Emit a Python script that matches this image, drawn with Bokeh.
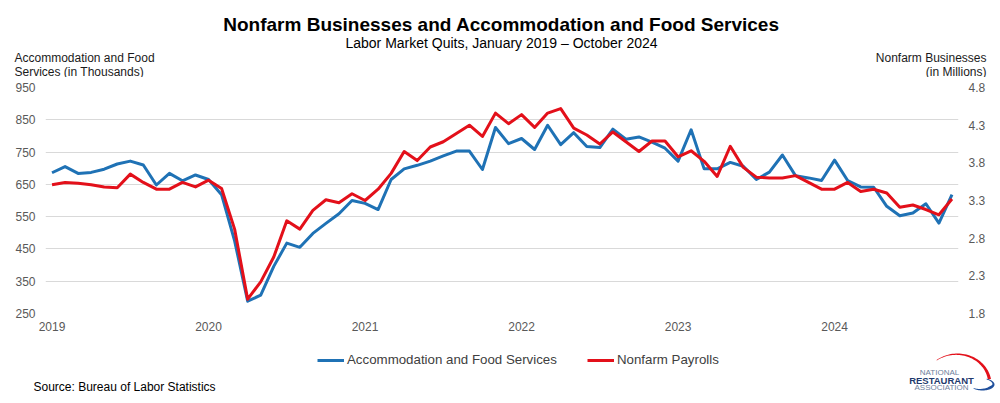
import math
from bokeh.plotting import figure
from bokeh.layouts import column
from bokeh.models import (Range1d, LinearAxis, FixedTicker, Label, Legend, LegendItem,
                          NumeralTickFormatter)
from bokeh.embed import file_html
from bokeh.resources import INLINE

# ---------------- data ----------------
months = list(range(70))  # Jan 2019 .. Oct 2024
year_ticks = [0, 12, 24, 36, 48, 60]
year_labels = ["2019", "2020", "2021", "2022", "2023", "2024"]

left_ticks = [250, 350, 450, 550, 650, 750, 850, 950]
right_ticks = [1.8, 2.3, 2.8, 3.3, 3.8, 4.3, 4.8]

# Accommodation and Food Services quits (thousands)
food_services = [686, 705, 684, 687, 697, 713, 722, 710, 648, 684, 661, 679,
                 665, 618, 475, 288, 307, 396, 468, 455, 498, 529, 559, 600,
                 591, 572, 665, 698, 709, 722, 738, 753, 753, 696, 826, 776,
                 792, 758, 833, 773, 810, 767, 764, 821, 790, 797, 781, 762,
                 722, 819, 698, 698, 718, 706, 665, 688, 741, 677, 670, 662,
                 725, 662, 642, 641, 582, 553, 561, 590, 530, 618]

# Nonfarm quits (millions)
nonfarm = [3.51, 3.54, 3.53, 3.51, 3.48, 3.47, 3.65, 3.54, 3.45, 3.45, 3.54, 3.48,
           3.57, 3.46, 2.92, 1.99, 2.22, 2.55, 3.03, 2.92, 3.17, 3.31, 3.27, 3.39,
           3.30, 3.45, 3.66, 3.95, 3.83, 4.01, 4.08, 4.19, 4.30, 4.15, 4.46, 4.32,
           4.44, 4.27, 4.46, 4.52, 4.26, 4.17, 4.05, 4.21, 4.08, 3.95, 4.09, 4.09,
           3.88, 3.96, 3.82, 3.62, 4.02, 3.74, 3.61, 3.60, 3.60, 3.63, 3.54, 3.45,
           3.45, 3.54, 3.42, 3.45, 3.40, 3.21, 3.24, 3.18, 3.11, 3.32]

series_names = ["Accommodation and Food Services", "Nonfarm Payrolls"]

title = "Nonfarm Businesses and Accommodation and Food Services"
subtitle = "Labor Market Quits, January 2019 \u2013 October 2024"
left_title = ["Accommodation and Food", "Services (in Thousands)"]
right_title = ["Nonfarm Businesses", "(in Millions)"]
source = "Source: Bureau of Labor Statistics"

# ---------------- layout ----------------
W = 1000
HEAD_H = 77
MAIN_H = 263
FOOT_H = 403 - HEAD_H - MAIN_H
FL, FR = 45, 958          # frame left / right (page px)
FT, FB = 87, 313          # frame top / bottom (page px)

BLUE = "#1f72b5"
RED = "#e3101a"
FONT = "Liberation Sans"


def blank_fig(h, y0):
    f = figure(width=W, height=h, x_range=Range1d(0, W), y_range=Range1d(y0 + h, y0),
               output_backend="svg", toolbar_location=None,
               x_axis_location=None, y_axis_location=None,
               min_border=0, min_border_left=0, min_border_right=0,
               min_border_top=0, min_border_bottom=0)
    f.outline_line_color = None
    f.xgrid.visible = False
    f.ygrid.visible = False
    f.background_fill_color = "white"
    f.border_fill_color = "white"
    return f


def add_text(f, px, py, text, size, align="left", bold=False, color="#000000"):
    f.add_layout(Label(x=px, y=py, text=text, text_align=align,
                       text_baseline="alphabetic", text_font=FONT, text_font_size=size,
                       text_font_style="bold" if bold else "normal", text_color=color))


# ---- header ----
head = blank_fig(HEAD_H, 0)
add_text(head, 501, 24, title, "19px", "center", True)
add_text(head, 501, 42, subtitle, "14px", "center")
add_text(head, 14, 57.5, left_title[0], "12px", "left", color="#1a1a1a")
add_text(head, 14, 71, left_title[1], "12px", "left", color="#1a1a1a")
add_text(head, 986, 57.5, right_title[0], "12px", "right", color="#1a1a1a")
add_text(head, 986, 71, right_title[1], "12px", "right", color="#1a1a1a")

# ---- main chart ----
p = figure(width=W, height=MAIN_H, x_range=Range1d(-0.5, 69.5), y_range=Range1d(250, 950),
           output_backend="svg", toolbar_location=None,
           min_border_left=FL, min_border_right=W - FR,
           min_border_top=FT - HEAD_H, min_border_bottom=HEAD_H + MAIN_H - FB)
p.outline_line_color = None
p.background_fill_color = "white"
p.border_fill_color = "white"
p.xgrid.visible = False
p.ygrid.grid_line_color = "#d9d9d9"
p.ygrid.grid_line_width = 1

p.extra_y_ranges = {"r": Range1d(1.8, 4.8)}

xa = p.xaxis[0]
xa.ticker = FixedTicker(ticks=year_ticks)
xa.major_label_overrides = {t: l for t, l in zip(year_ticks, year_labels)}

ya = p.yaxis[0]
ya.ticker = FixedTicker(ticks=left_ticks)

ra = LinearAxis(y_range_name="r", ticker=FixedTicker(ticks=right_ticks),
                formatter=NumeralTickFormatter(format="0.0"))
p.add_layout(ra, "right")

for ax in (xa, ya, ra):
    ax.axis_line_color = None
    ax.major_tick_line_color = None
    ax.minor_tick_line_color = None
    ax.major_tick_out = 0
    ax.major_tick_in = 0
    ax.minor_tick_out = 0
    ax.minor_tick_in = 0
    ax.major_label_text_font = FONT
    ax.major_label_text_font_size = "12px"
    ax.major_label_text_color = "#595959"
xa.major_label_standoff = 8
ya.major_label_standoff = 10
ra.major_label_standoff = 10

r_food = p.line(months, food_services, line_color=BLUE, line_width=3, line_join="round")
r_nf = p.line(months, nonfarm, line_color=RED, line_width=3, line_join="round",
              y_range_name="r")

# ---- footer ----
y0 = HEAD_H + MAIN_H
foot = blank_fig(FOOT_H, y0)
# legend swatches (styled like the chart's series; no visible data)
nan = float("nan")
lg_food = foot.line(x=[nan], y=[nan], line_color=BLUE, line_width=3)
lg_nf = foot.line(x=[nan], y=[nan], line_color=RED, line_width=3)
legend = Legend(items=[LegendItem(label=series_names[0], renderers=[lg_food]),
                       LegendItem(label=series_names[1], renderers=[lg_nf])],
                orientation="horizontal", location=(317, 403 - 367),
                padding=0, margin=0, spacing=30, label_standoff=3,
                glyph_width=27, glyph_height=14, label_height=14,
                label_text_font=FONT, label_text_font_size="13.3px", label_text_color="#404040",
                border_line_color=None, background_fill_alpha=0)
foot.add_layout(legend, "center")

add_text(foot, 33, 386.5, source, "12px", "left")

# logo
add_text(foot, 939, 372, "NATIONAL", "8px", "center", color="#6f7f9c")
add_text(foot, 941, 379.5, "RESTAURANT", "9.5px", "center", True, color="#1e3a6d")
add_text(foot, 941, 387, "ASSOCIATION", "8px", "center", color="#6f7f9c")


def crescent(cx, cy, rx, ry, a0, a1, t0, t1, tmid=None, n=40):
    xs_o, ys_o, xs_i, ys_i = [], [], [], []
    for k in range(n + 1):
        f = k / n
        a = math.radians(a0 + (a1 - a0) * f)
        if tmid is None:
            t = t0 + (t1 - t0) * f
        elif f < 0.5:
            t = t0 + (tmid - t0) * 2 * f
        else:
            t = tmid + (t1 - tmid) * (2 * f - 1)
        xs_o.append(cx + rx * math.cos(a))
        ys_o.append(cy - ry * math.sin(a))
        xs_i.append(cx + (rx - t) * math.cos(a))
        ys_i.append(cy - (ry - t) * math.sin(a))
    return xs_o + xs_i[::-1], ys_o + ys_i[::-1]


xs, ys = crescent(957, 384, 34, 31, 128, 10, 0.5, 3.2)
foot.patch(xs, ys, fill_color="#e3101a", line_color=None)
xs, ys = crescent(982, 384, 12, 6, 70, -140, 0.5, 0.5, tmid=3.0)
foot.patch(xs, ys, fill_color="#1f4f9c", line_color=None)

layout = column(column(head, spacing=0), p, column(foot, spacing=0), spacing=0)
open("out.html", "w").write(file_html(layout, INLINE))
